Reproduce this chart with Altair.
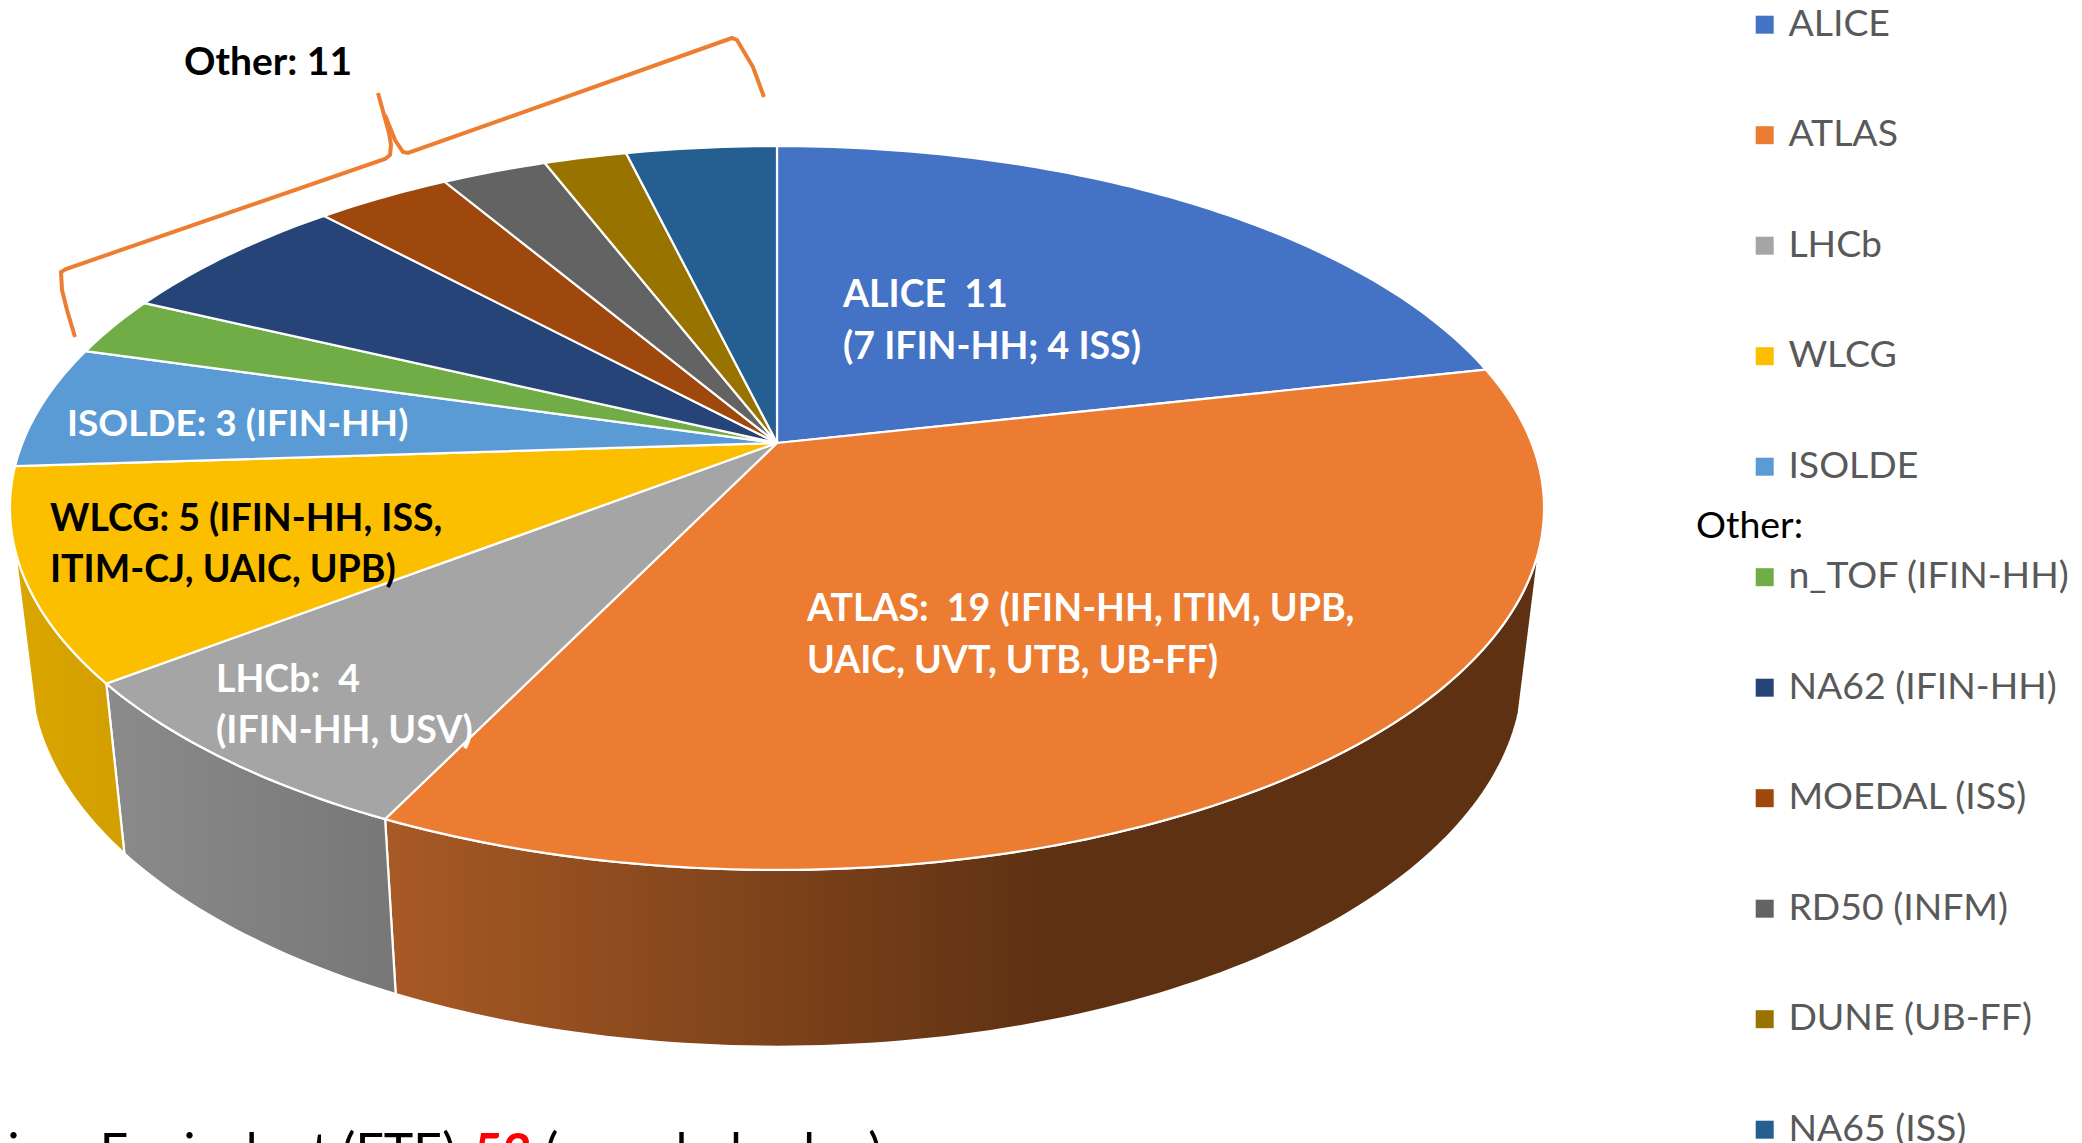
import math
import altair as alt

names = ["ALICE", "ATLAS", "LHCb", "WLCG", "ISOLDE", "n_TOF (IFIN-HH)", "NA62 (IFIN-HH)",
         "MOEDAL (ISS)", "RD50 (INFM)", "DUNE (UB-FF)", "NA65 (ISS)"]
values = [11.4, 18.9, 3.9, 5.0, 2.9, 1.4, 3.2, 1.8, 1.4, 1.1, 2.0]
colors = ["#4472C4", "#EB7C31", "#A5A5A5", "#FBBF00", "#5B9BD5", "#70AD47", "#264478",
          "#9E480E", "#636363", "#997300", "#255E91"]

# perspective of the drawn disc (page pixels, minus the 8px page margin)
CX, CY = 777 - 8, 443 - 8
A, B, K = 754.6, 350.3, 0.1795
CXB, CYB, DEPTH = 0.973, 1.037, 161
WALL_LIMIT = 106.5


def top(deg):
    t = math.radians(deg)
    u, v = math.sin(t), math.cos(t)
    d = 1 + K * v
    return A * u / d, B * v / d


def rim_top(deg):
    x, y = top(deg)
    return [CX + x, CY - y]


def rim_bottom(deg):
    x, y = top(deg)
    return [CX + x * CXB, CY - (y * CYB - DEPTH)]


def arc(f, a, b):
    n = max(2, int(abs(b - a)) + 1)
    return [f(a + (b - a) * i / n) for i in range(n + 1)]


total = sum(values)
edges = [0]
for val in values:
    edges.append(edges[-1] + val / total * 360)

slices = []
for nm, a, b in zip(names, edges[:-1], edges[1:]):
    ring = [[CX, CY]] + arc(rim_top, a, b) + [[CX, CY]]
    slices.append({"type": "Feature", "properties": {"name": nm},
                   "geometry": {"type": "Polygon", "coordinates": [ring]}})


def wall(a, b):
    ring = arc(rim_top, a, b) + arc(rim_bottom, b, a)
    ring.append(ring[0])
    return [{"type": "Feature", "properties": {},
             "geometry": {"type": "Polygon", "coordinates": [ring]}}]


def line_feature(pts):
    return [{"type": "Feature", "properties": {},
             "geometry": {"type": "LineString", "coordinates": [[x - 8, y - 8] for x, y in pts]}}]


brace_left = [(75, 337), (67, 310), (62, 290), (61, 272), (66, 269), (385, 159), (390, 155),
              (391, 145), (389, 133), (378, 93)]
brace_right = [(385, 115), (395, 140), (403, 152), (408, 153), (732, 38), (737, 40), (753, 67), (764, 97)]

proj = alt.Projection(type="identity", reflectY=False, scale=1, translate=[0, 0])


def grad(stops):
    return alt.LinearGradient(gradient="linear", x1=0, x2=1, y1=0, y2=0,
                              stops=[alt.GradientStop(offset=o, color=c) for o, c in stops])


def wall_chart(a, b, stops):
    return alt.Chart(alt.Data(values=wall(a, b))).mark_geoshape(
        fill=grad(stops), stroke="white", strokeWidth=2.2).project(**proj.to_dict())


walls = [
    wall_chart(WALL_LIMIT, edges[2], [(0, "#A85A25"), (0.58, "#5E3113"), (1, "#5E3113")]),
    wall_chart(edges[2], edges[3], [(0, "#8B8B8B"), (1, "#777777")]),
    wall_chart(edges[3], 360 - WALL_LIMIT, [(0, "#DBA600"), (1, "#D29F00")]),
]

top_face = alt.Chart(alt.Data(values=slices)).mark_geoshape(stroke="white", strokeWidth=2.2).encode(
    color=alt.Color("properties.name:N",
                    scale=alt.Scale(domain=names, range=colors),
                    sort=None,
                    legend=alt.Legend(orient="none", legendX=1738, legendY=-2, title=None,
                                      symbolType="square", symbolSize=324, symbolStrokeWidth=0,
                                      labelFont="Lato", labelFontSize=37.4, labelColor="#595959",
                                      labelOffset=5, labelLimit=500, rowPadding=71.5, padding=0))
).project(**proj.to_dict())

braces = [alt.Chart(alt.Data(values=line_feature(p))).mark_geoshape(
    filled=False, stroke="#ED7D31", strokeWidth=4).project(**proj.to_dict())
    for p in (brace_left, brace_right)]


def text(s, x, y, color="white", weight="bold", size=37.5, align="left"):
    return alt.Chart(alt.Data(values=[{"t": s}])).mark_text(
        align=align, baseline="alphabetic", font="Lato", fontSize=size,
        fontWeight=weight, color=color).encode(
        text="t:N", x=alt.value(x - 8), y=alt.value(y - 8))


labels = [
    text("ALICE\u00a0 11", 843, 307),
    text("(7 IFIN-HH; 4 ISS)", 843, 359),
    text("ATLAS:\u00a0 19 (IFIN-HH, ITIM, UPB,", 807, 621),
    text("UAIC, UVT, UTB, UB-FF)", 807, 673),
    text("LHCb:\u00a0 4", 216, 692),
    text("(IFIN-HH, USV)", 216, 743),
    text("WLCG: 5 (IFIN-HH, ISS,", 50, 531, color="black"),
    text("ITIM-CJ, UAIC, UPB)", 50, 582, color="black"),
    text("ISOLDE: 3 (IFIN-HH)", 67, 436, size=37),
    text("Other: 11", 184, 75, color="black", size=39),
    text("Other:", 1696, 538, color="black", weight="normal"),
    text("Full Time Equivalent (FTE):", 468, 1169, color="black", weight="normal", size=50, align="right"),
    text("53", 474, 1169, color="#FF0000", weight="bold", size=50),
    text("(rounded value)", 545, 1169, color="black", weight="normal", size=50),
]

chart = alt.layer(*walls, top_face, *braces, *labels).properties(
    width=2066, height=1135, padding=0, autosize=alt.AutoSizeParams(type="none"),
    background="white"
).configure_view(stroke=None)

chart.save("out.html", embed_options={"renderer": "svg", "actions": False})
